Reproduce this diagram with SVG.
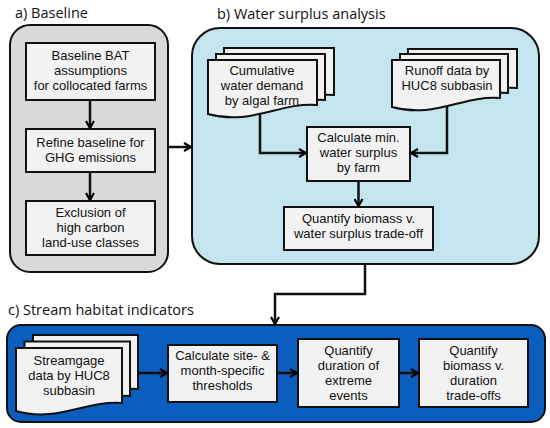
<svg xmlns="http://www.w3.org/2000/svg" width="550" height="428" viewBox="0 0 550 428">
<defs>
<marker id="arr" viewBox="0 0 10 10" refX="8.5" refY="5" markerWidth="10" markerHeight="10" markerUnits="userSpaceOnUse" orient="auto">
<path d="M1.5,1 L8.5,5 L1.5,9" fill="none" stroke="#000" stroke-width="2.2" stroke-linejoin="miter"/>
</marker>
<style>
.h{font-family:"Open Sans","Noto Sans",sans-serif;font-size:14.5px;fill:#111}
.t{font-family:"Liberation Sans",Arial,sans-serif;font-size:13px;text-anchor:middle;fill:#111}
.box{fill:#f2f2f2;stroke:#111;stroke-width:2}
.panel{stroke:#111;stroke-width:2}
.con{fill:none;stroke:#111;stroke-width:2.5;marker-end:url(#arr)}
</style>
</defs>
<rect width="550" height="428" fill="#fff"/>

<g id="panel-a">
<text class="h" x="15" y="18">a) Baseline</text>
<rect class="panel" x="10" y="25" width="158" height="247" rx="20" fill="#d9d9d9"/>
</g>
<g id="panel-b">
<text class="h" x="217" y="19">b) Water surplus analysis</text>
<rect class="panel" x="192" y="28" width="347" height="236" rx="28" fill="#c4e4ee"/>
</g>
<g id="panel-c">
<text class="h" x="8" y="315">c) Stream habitat indicators</text>
<rect class="panel" x="7" y="325" width="538" height="97" rx="14" fill="#0b5ebe"/>
</g>

<g id="connectors">
<path class="con" d="M90,100 V128"/>
<path class="con" d="M90,172 V200"/>
<path class="con" d="M168,147 H191"/>
<path class="con" d="M260,110 V153 H306"/>
<path class="con" d="M447,100 V153 H411"/>
<path class="con" d="M358.5,181 V206"/>
<path class="con" d="M365,264 V294 H275 V324"/>
<path class="con" d="M138,373 H167"/>
<path class="con" d="M277,373 H297"/>
<path class="con" d="M399,373 H418"/>
</g>

<g id="a1">
<rect class="box" x="26" y="43" width="129" height="57"/>
<text class="t" x="90.5" y="60">Baseline BAT</text>
<text class="t" x="90.5" y="75">assumptions</text>
<text class="t" x="90.5" y="90">for collocated farms</text>
</g>
<g id="a2">
<rect class="box" x="26" y="129" width="129" height="43"/>
<text class="t" x="90.5" y="147">Refine baseline for</text>
<text class="t" x="90.5" y="162">GHG emissions</text>
</g>
<g id="a3">
<rect class="box" x="26" y="201" width="129" height="54"/>
<text class="t" x="90.5" y="217">Exclusion of</text>
<text class="t" x="90.5" y="232">high carbon</text>
<text class="t" x="90.5" y="247">land-use classes</text>
</g>

<g id="b-demand">
<path class="box" d="M224,48 H334 V95 C297,92 267,115 224,103 Z"/>
<path class="box" d="M216,54 H325 V100 C288,97 258,120 216,108 Z"/>
<path class="box" d="M208,60 H317 V105 C280,102 250,126 208,114 Z"/>
<text class="t" x="262" y="75">Cumulative</text>
<text class="t" x="262" y="90">water demand</text>
<text class="t" x="262" y="105">by algal farm</text>
</g>
<g id="b-runoff">
<path class="box" d="M408,49 H517 V88 C480,85 450,108 408,96 Z"/>
<path class="box" d="M400,54 H508 V93 C471,90 442,113 400,101 Z"/>
<path class="box" d="M392,60 H500 V98 C463,95 434,119 392,107 Z"/>
<text class="t" x="447" y="75">Runoff data by</text>
<text class="t" x="447" y="90">HUC8 subbasin</text>
</g>
<g id="b-calc">
<rect class="box" x="307" y="127" width="103" height="54"/>
<text class="t" x="358.5" y="142">Calculate min.</text>
<text class="t" x="358.5" y="157">water surplus</text>
<text class="t" x="358.5" y="172">by farm</text>
</g>
<g id="b-quant">
<rect class="box" x="284" y="207" width="149" height="43"/>
<text class="t" x="358.5" y="223">Quantify biomass v.</text>
<text class="t" x="358.5" y="238">water surplus trade-off</text>
</g>

<g id="c-stream">
<path class="box" d="M33,335 H138 V389 C102,386 74,409 33,397 Z"/>
<path class="box" d="M24.5,341.5 H130 V396 C94,393 65.5,416 24.5,404 Z"/>
<path class="box" d="M16,348 H122 V403 C86,400 57,423 16,411 Z"/>
<text class="t" x="69" y="365">Streamgage</text>
<text class="t" x="69" y="380">data by HUC8</text>
<text class="t" x="69" y="395">subbasin</text>
</g>
<g id="c-calc">
<rect class="box" x="168" y="345" width="109" height="57"/>
<text class="t" x="222.5" y="360">Calculate site- &amp;</text>
<text class="t" x="222.5" y="375">month-specific</text>
<text class="t" x="222.5" y="390">thresholds</text>
</g>
<g id="c-duration">
<rect class="box" x="298" y="339" width="101" height="68"/>
<text class="t" x="348.5" y="355">Quantify</text>
<text class="t" x="348.5" y="370">duration of</text>
<text class="t" x="348.5" y="385">extreme</text>
<text class="t" x="348.5" y="400">events</text>
</g>
<g id="c-tradeoff">
<rect class="box" x="419" y="339" width="109" height="68"/>
<text class="t" x="473.5" y="355">Quantify</text>
<text class="t" x="473.5" y="370">biomass v.</text>
<text class="t" x="473.5" y="385">duration</text>
<text class="t" x="473.5" y="400">trade-offs</text>
</g>
</svg>
